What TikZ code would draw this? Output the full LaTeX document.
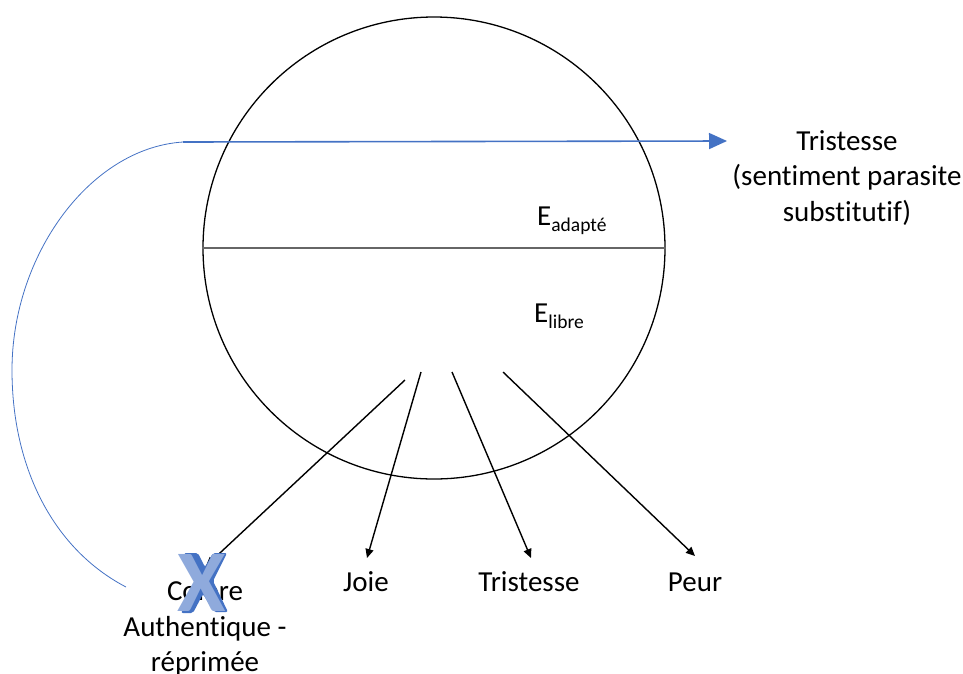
\documentclass[tikz,border=0pt]{standalone}
\usepackage{fontspec}
\setmainfont{Carlito}[Ligatures=NoCommon]
\usetikzlibrary{arrows.meta}
\definecolor{officeblue}{HTML}{4472C4}
\definecolor{xlight}{HTML}{8FAADC}
\newcommand{\subtxt}[1]{\raisebox{-0.24em}{\fontsize{19.5}{19.5}\selectfont #1}}
\tikzset{
  x=1pt,y=-1pt,
  lbl/.style={inner sep=0pt,align=center,font=\fontsize{29}{35.5}\selectfont,text=black},
  blackarrow/.style={draw=black,line width=1.4pt,-{Triangle[length=9pt,width=8pt]}},
  bluearrow/.style={draw=officeblue,line width=1.6pt,-{Triangle[length=18pt,width=16pt,fill=officeblue]}},
  bluearc/.style={draw=officeblue,line width=.8pt},
}
\begin{document}
\begin{tikzpicture}
\useasboundingbox (0,0) rectangle (963,673);
\node[draw=black,line width=1.3pt,circle,minimum size=462pt,inner sep=0pt] (c) at (434,248) {};
\draw[draw=black!60,line width=1.2pt] (c.west) -- (c.east);
\coordinate (bs) at (183,142);
\coordinate (be) at (727,141);
\coordinate (as) at (126,587);
\draw[bluearc] (bs) .. controls (90,148) and (12,255) .. (12,370) .. controls (12,470) and (55,550) .. (as);
\draw[bluearrow] (bs) -- (be);
\node[lbl] (tp) at (847,178) {Tristesse\\(sentiment parasite\\substitutif)};
\node[lbl,anchor=base west] (ea) at (537,225) {E\subtxt{adapté}};
\node[lbl,anchor=base west] (el) at (534,322) {E\subtxt{libre}};
\coordinate (a1) at (405,380);
\coordinate (a2) at (421,372);
\coordinate (a3) at (452,372);
\coordinate (a4) at (503,372);
\node[lbl] (colere) at (205,628.5) {Colère\\Authentique -\\réprimée};
\node[lbl,anchor=base] (joie) at (366,591) {Joie};
\node[lbl,anchor=base] (tri) at (529,591) {Tristesse};
\node[lbl,anchor=base] (peur) at (695,591) {Peur};
\coordinate (e1) at (206,566);
\coordinate (e2) at (367,558);
\coordinate (e3) at (531,558);
\coordinate (e4) at (695,556);
\draw[blackarrow] (a1) -- (e1);
\draw[blackarrow] (a2) -- (e2);
\draw[blackarrow] (a3) -- (e3);
\draw[blackarrow] (a4) -- (e4);
\fill[officeblue,rounded corners=2pt] (184,553) -- (198,553) -- (205,567) -- (213,553) -- (227,553) -- (213,581) -- (228,612) -- (214,612) -- (203,594) -- (193,613) -- (181,613) -- (197,581) -- cycle;
\node[inner sep=0pt,font=\fontsize{88}{88}\selectfont\bfseries,text=xlight] (xmark) at (201.5,583) {X};
\end{tikzpicture}
\end{document}
